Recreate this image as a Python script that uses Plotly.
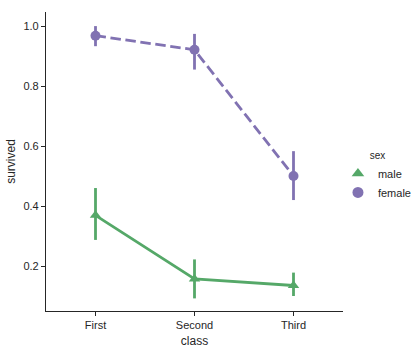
import plotly.graph_objects as go

classes = ["First", "Second", "Third"]
male_mean = [0.369, 0.157, 0.135]
male_lo = [0.287, 0.092, 0.100]
male_hi = [0.460, 0.222, 0.178]
female_mean = [0.968, 0.921, 0.500]
female_lo = [0.933, 0.855, 0.420]
female_hi = [1.000, 0.974, 0.583]
y_ticks = [0.2, 0.4, 0.6, 0.8, 1.0]

GREEN = "#55a868"
PURPLE = "#8172b2"
INK = "#262626"
FONT = "Liberation Sans, Arial, sans-serif"

def err(mean, lo, hi):
    return dict(type="data", symmetric=False,
                array=[h - m for h, m in zip(hi, mean)],
                arrayminus=[m - l for m, l in zip(mean, lo)],
                width=0, thickness=2.8)

fig = go.Figure()
fig.add_trace(go.Scatter(
    x=classes, y=male_mean, name="male", mode="lines+markers", showlegend=False,
    line=dict(color=GREEN, width=2.8),
    marker=dict(symbol="triangle-up", size=10, color=GREEN),
    error_y=dict(color=GREEN, **err(male_mean, male_lo, male_hi)),
))
fig.add_trace(go.Scatter(
    x=classes, y=female_mean, name="female", mode="lines+markers", showlegend=False,
    line=dict(color=PURPLE, width=2.8, dash="10.5px,4.6px"),
    marker=dict(symbol="circle", size=10, color=PURPLE),
    error_y=dict(color=PURPLE, **err(female_mean, female_lo, female_hi)),
))
# legend-only marker entries
fig.add_trace(go.Scatter(x=[None], y=[None], name="male", mode="markers",
                         marker=dict(symbol="triangle-up", size=11, color=GREEN)))
fig.add_trace(go.Scatter(x=[None], y=[None], name="female", mode="markers",
                         marker=dict(symbol="circle", size=11, color=PURPLE)))

fig.update_layout(
    width=420, height=352,
    margin=dict(l=46, r=77, t=12, b=41, autoexpand=False),
    paper_bgcolor="white", plot_bgcolor="white",
    font=dict(family=FONT, color=INK, size=11),
    showlegend=True,
    legend=dict(
        title=dict(text="sex", font=dict(size=10), side="top center"),
        x=0.983, y=0.45, xanchor="left", yanchor="middle",
        font=dict(size=11), bgcolor="rgba(0,0,0,0)",
        tracegroupgap=0,
    ),
    xaxis=dict(
        type="category", range=[-0.5, 2.5], automargin=False,
        title=dict(text="class", font=dict(size=12), standoff=6),
        showline=True, linecolor=INK, linewidth=1.25,
        ticks="outside", ticklen=4, tickwidth=1.25, tickcolor=INK,
        showgrid=False, zeroline=False,
    ),
    yaxis=dict(
        range=[0.05, 1.047], automargin=False,
        tickvals=y_ticks, ticktext=[f"{v:.1f}" for v in y_ticks],
        title=dict(text="survived", font=dict(size=12), standoff=5),
        showline=True, linecolor=INK, linewidth=1.25,
        ticks="outside", ticklen=4, tickwidth=1.25, tickcolor=INK,
        showgrid=False, zeroline=False,
    ),
)

fig.write_html("out.html")
